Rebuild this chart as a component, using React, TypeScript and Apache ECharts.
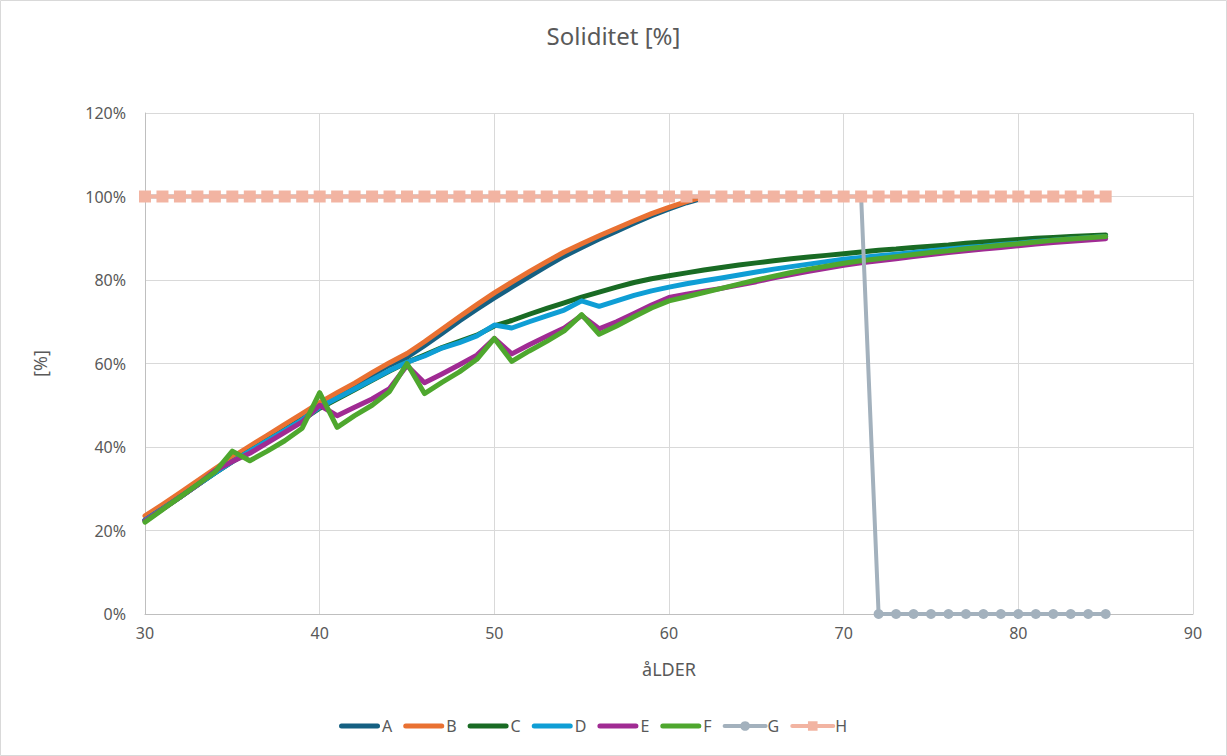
import React, { useEffect, useRef } from "react";
import * as echarts from "echarts";

const ages = [30,31,32,33,34,35,36,37,38,39,40,41,42,43,44,45,46,47,48,49,50,51,52,53,54,55,56,57,58,59,60,61,62,63,64,65,66,67,68,69,70,71,72,73,74,75,76,77,78,79,80,81,82,83,84,85];

const seriesA = [22.5,25.2,28,30.9,33.8,36.6,39.4,42,44.8,47.4,50,52.4,54.8,57.3,59.6,61.5,64.3,67.2,70.2,73,75.7,78.3,80.8,83.3,85.7,87.8,89.8,91.7,93.6,95.4,97,98.5,99.7];
const seriesB = [23.5,26.2,29,31.9,34.8,37.6,40.2,42.8,45.4,48,50.6,53,55.3,57.8,60.2,62.4,65.2,68.2,71.2,74.1,76.9,79.5,82,84.4,86.7,88.7,90.6,92.4,94.2,95.9,97.4,98.8,100];
const seriesC = [22.5,25.2,28,30.9,33.8,36.5,39,41.5,44,46.5,49.3,51.5,53.7,56,58.2,60.3,62,63.8,65.3,66.8,69,70.3,71.8,73.2,74.5,75.9,77.1,78.3,79.4,80.3,81,81.7,82.4,83,83.6,84.1,84.6,85.1,85.5,85.9,86.3,86.7,87.1,87.4,87.8,88.1,88.4,88.8,89.1,89.4,89.7,90,90.2,90.4,90.6,90.8];
const seriesD = [22.5,25.2,28,30.9,33.8,36.5,39,41.5,44,46.5,49.5,51.7,53.9,56.1,58.3,60.3,61.8,63.7,65,66.6,69.2,68.5,70,71.4,72.8,75,73.7,75,76.3,77.4,78.3,79.1,79.8,80.5,81.2,81.9,82.6,83.2,83.8,84.4,85,85.4,85.8,86.2,86.6,87,87.4,87.8,88.1,88.5,88.8,89.2,89.5,89.8,90.1,90.4];
const seriesE = [22.3,25.1,28,30.9,34.3,36.5,38.5,41,43.5,46,50,47.5,49.5,51.5,54,59.5,55.4,57.5,59.7,62,66,62.3,64.5,66.5,68.5,71.5,68.3,70,72,74,75.8,76.6,77.3,78,78.8,79.6,80.5,81.3,82.1,82.8,83.5,84.1,84.6,85.1,85.6,86.1,86.6,87,87.4,87.8,88.2,88.6,89,89.3,89.6,89.9];
const seriesF = [22,25,28,31,34,39,36.7,39,41.5,44.5,53,44.7,47.5,50,53.3,60,52.8,55.5,58,61,66,60.5,63,65.3,67.8,71.7,67,69,71.2,73.3,75,76,77,78,79,80,80.9,81.8,82.6,83.3,84,84.6,85.1,85.6,86.1,86.6,87,87.5,87.9,88.3,88.7,89.1,89.5,89.8,90.1,90.4];
const seriesG = [100,100,100,100,100,100,100,100,100,100,100,100,100,100,100,100,100,100,100,100,100,100,100,100,100,100,100,100,100,100,100,100,100,100,100,100,100,100,100,100,100,100,0,0,0,0,0,0,0,0,0,0,0,0,0,0];
const seriesH = [100,100,100,100,100,100,100,100,100,100,100,100,100,100,100,100,100,100,100,100,100,100,100,100,100,100,100,100,100,100,100,100,100,100,100,100,100,100,100,100,100,100,100,100,100,100,100,100,100,100,100,100,100,100,100,100];

const names = ["A","B","C","D","E","F","G","H"];
const colors = ["#156082","#E97132","#196B24","#0F9ED5","#A02B93","#4EA72E","#A3B1BD","#F2B4A2"];
const values = [seriesA, seriesB, seriesC, seriesD, seriesE, seriesF, seriesG, seriesH];

const FONT = "Noto Sans";
const TXT = "#595959";
const LINE_ICON = "path://M2.5,0 L38.5,0 A2.5,2.5 0 0 1 38.5,5 L2.5,5 A2.5,2.5 0 0 1 2.5,0 Z";

export default function App() {
  const ref = useRef<HTMLDivElement>(null);
  useEffect(() => {
    document.body.style.margin = "0";
    const chart = echarts.init(ref.current!, null, { renderer: "svg" });
    const series: any[] = values.map((vals, i) => {
      const data = vals.map((v, j) => [ages[j], v]);
      const base: any = {
        name: names[i],
        type: "line",
        data,
        color: colors[i],
        lineStyle: { width: i >= 6 ? 4 : 5, color: colors[i], cap: "round", join: "round" },
        itemStyle: { color: colors[i] },
        emphasis: { disabled: true },
        z: 2 + i,
      };
      if (i < 6) {
        base.symbol = "none";
        base.showSymbol = false;
      } else if (i === 6) {
        base.symbol = "circle";
        base.symbolSize = 10;
        base.showSymbol = true;
      } else {
        base.symbol = "rect";
        base.symbolSize = 12;
        base.showSymbol = true;
      }
      return base;
    });
    const legendData = names.map((n, i) =>
      i < 6 ? { name: n, icon: LINE_ICON } : { name: n }
    );
    chart.setOption({
      animation: false,
      textStyle: { fontFamily: FONT },
      title: {
        text: "Soliditet [%]",
        left: "center",
        top: 18,
        textStyle: { fontFamily: FONT, fontSize: 24, fontWeight: "normal", color: TXT },
      },
      graphic: [
        {
          type: "rect",
          shape: { x: 0.5, y: 0.5, width: 1226, height: 755 },
          style: { fill: "none", stroke: "#D9D9D9", lineWidth: 1 },
          silent: true,
        },
      ],
      legend: {
        data: legendData,
        top: 713,
        left: 334,
        itemWidth: 41,
        itemHeight: 12,
        itemGap: 11,
        lineStyle: { width: 4, cap: "round" },
        textStyle: { fontFamily: FONT, fontSize: 16, color: TXT, padding: [0, 0, 0, -3] },
      },
      grid: { left: 145, right: 34, top: 113, bottom: 142, containLabel: false },
      xAxis: {
        type: "value",
        min: 30,
        max: 90,
        interval: 10,
        name: "åLDER",
        nameLocation: "middle",
        nameGap: 46,
        nameTextStyle: { fontFamily: FONT, fontSize: 18, color: TXT },
        axisLine: { show: true, lineStyle: { color: "#BFBFBF", width: 1 } },
        axisTick: { show: false },
        axisLabel: { color: TXT, fontSize: 16, fontFamily: FONT, margin: 11 },
        splitLine: { show: true, lineStyle: { color: "#D9D9D9", width: 1 } },
      },
      yAxis: {
        type: "value",
        min: 0,
        max: 120,
        interval: 20,
        name: "[%]",
        nameLocation: "middle",
        nameGap: 96,
        nameRotate: 90,
        nameTextStyle: { fontFamily: FONT, fontSize: 18, color: TXT },
        axisLine: { show: true, lineStyle: { color: "#BFBFBF", width: 1 } },
        axisTick: { show: false },
        axisLabel: { color: TXT, fontSize: 16, fontFamily: FONT, margin: 19, formatter: "{value}%" },
        splitLine: { show: true, lineStyle: { color: "#D9D9D9", width: 1 } },
      },
      series,
    });
    return () => chart.dispose();
  }, []);
  return <div ref={ref} style={{ width: 1227, height: 756 }} />;
}
